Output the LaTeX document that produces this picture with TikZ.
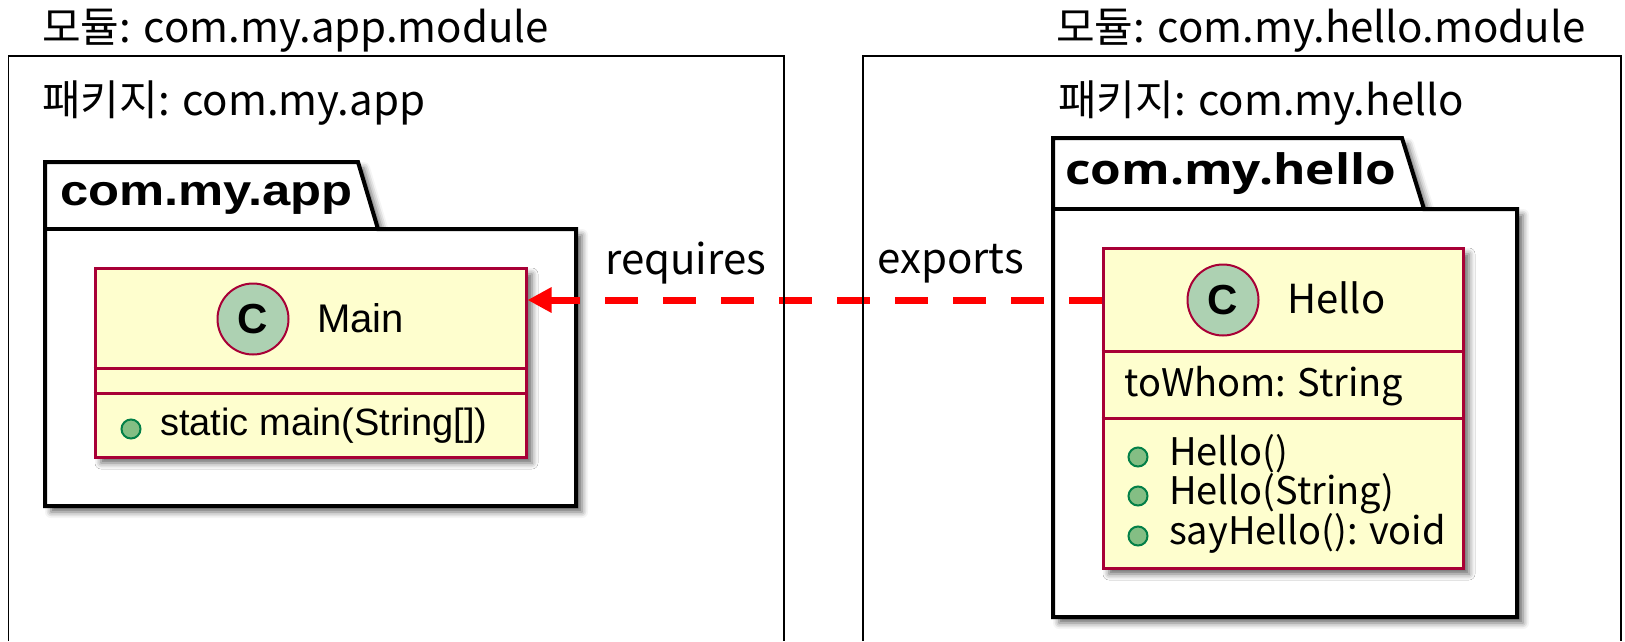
\documentclass[tikz,border=0pt]{standalone}
\usepackage{fontspec}
\setmainfont{Liberation Sans}
\newfontfamily\kr{Noto Sans CJK KR}
\newfontfamily\pkgfont[FakeStretch=1.18]{Liberation Sans}
\newfontfamily\pkgfontkr[FakeStretch=1.18]{Open Sans}
\usetikzlibrary{arrows.meta,shadows,shadows.blur,positioning}

\definecolor{classfill}{HTML}{FEFECE}
\definecolor{classline}{HTML}{A80036}
\definecolor{spotfill}{HTML}{ADD1B2}
\definecolor{pubfill}{HTML}{84BE84}
\definecolor{publine}{HTML}{038048}

\tikzset{
  modframe/.style={line width=1.5pt},
  pkgframe/.style={line width=4pt, fill=white,
    blur shadow={shadow xshift=6pt, shadow yshift=-6pt, shadow blur radius=6pt, shadow opacity=60}},
  classbox/.style={rectangle, draw=classline, line width=3pt, fill=classfill,
    inner sep=0pt, blur shadow={shadow xshift=6pt, shadow yshift=-6pt, shadow blur radius=6pt, shadow opacity=60}},
  divider/.style={draw=classline, line width=3pt},
  spot/.style={circle, draw=classline, line width=2pt, fill=spotfill,
    minimum size=71pt, inner sep=0pt, font=\bfseries\fontsize{42}{42}\selectfont},
  pub/.style={circle, draw=publine, line width=2pt, fill=pubfill, minimum size=19pt, inner sep=0pt},
  label/.style={anchor=base west, inner sep=0pt, font=\kr\fontsize{42}{42}\selectfont},
  mainfont/.style={anchor=base west, inner sep=0pt, font=\fontsize{38}{38}\selectfont},
  hellofont/.style={anchor=base west, inner sep=0pt, font=\kr\fontsize{38}{38}\selectfont},
  dep/.style={draw=red, line width=7pt, dash pattern=on 33pt off 25pt,
    -{Triangle[length=24pt, width=24pt]}}
}

\begin{document}
\begin{tikzpicture}[x=1pt, y=-1pt]
  \useasboundingbox (0,0) rectangle (1625,641);

  % module titles
  \node[label] (modapp) at (42,42) {모듈: com.my.app.module};
  \node[label] (modhello) at (1056,42) {모듈: com.my.hello.module};
  \node[label] (pkgapp) at (42,115) {패키지: com.my.app};
  \node[label] (pkghello) at (1058,115) {패키지: com.my.hello};

  % packages
  \draw[pkgframe] (45,162) -- (358,162) -- (378,229) -- (576,229)
    -- (576,506) -- (45,506) -- cycle;
  \draw[line width=4pt] (45,229) -- (378,229);
  \node[anchor=base west, inner sep=0pt, font=\pkgfont\bfseries\fontsize{43}{43}\selectfont]
    (apptab) at (60,205) {com.my.app};

  \draw[pkgframe] (1053,138) -- (1402,138) -- (1424,209) -- (1517,209)
    -- (1517,617) -- (1053,617) -- cycle;
  \draw[line width=4pt] (1053,209) -- (1424,209);
  \node[anchor=base west, inner sep=0pt, font=\pkgfontkr\bfseries\fontsize{42}{42}\selectfont]
    (hellotab) at (1065,184) {com.my.hello};

  % class Main
  \node[classbox, minimum width=431pt, minimum height=189pt] (main) at (310.5,362.5) {};
  \draw[divider] (main.west |- 0,368) -- (main.east |- 0,368);
  \draw[divider] (main.west |- 0,393) -- (main.east |- 0,393);
  \node[spot] (mainspot) at (253,319) {C};
  \node[mainfont, font=\fontsize{40}{40}\selectfont] (mainname) at (317,332) {Main};
  \node[pub] (mainpub) at (131,429) {};
  \node[mainfont] (mainop) at (160,435) {static main(String[])};

  % class Hello
  \node[classbox, minimum width=360pt, minimum height=320pt] (hello) at (1283,408) {};
  \draw[divider] (hello.west |- 0,351) -- (hello.east |- 0,351);
  \draw[divider] (hello.west |- 0,418) -- (hello.east |- 0,418);
  \node[spot] (hellospot) at (1223,300) {C};
  \node[hellofont, font=\kr\fontsize{40}{40}\selectfont] (helloname) at (1287,313) {Hello};
  \node[hellofont] (towhom) at (1124,396) {toWhom: String};
  \foreach \y/\txt [count=\i] in {465/Hello(), 504/Hello(String), 544/sayHello(): void} {
    \node[pub] (hellopub\i) at (1138,\y-8) {};
    \node[hellofont] (helloop\i) at (1169,\y) {\txt};
  }

  % dependency
  \draw[dep] (hello.west |- 0,300) -- (main.east |- 0,300);
  \node[label] (requires) at (605,274) {requires};
  \node[label] (exports) at (877,273) {exports};

  % module frames
  \draw[modframe] (8.5,641) -- (8.5,56) -- (784,56) -- (784,641);
  \draw[modframe] (863,641) -- (863,56) -- (1621,56) -- (1621,641);
\end{tikzpicture}
\end{document}
